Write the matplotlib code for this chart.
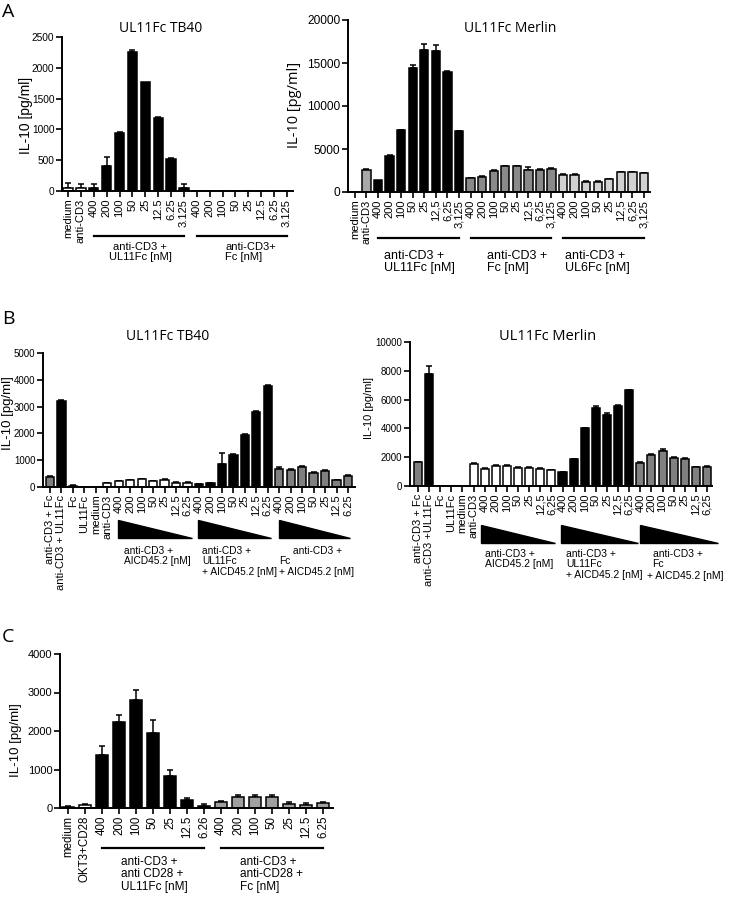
import matplotlib
matplotlib.use("Agg")
import matplotlib.pyplot as plt
import numpy as np
from matplotlib.patches import Polygon
from matplotlib.transforms import blended_transform_factory

plt.rcParams['font.family'] = ['Liberation Sans', 'DejaVu Sans']

W, H = 734, 898

# ---------------- DATA ----------------
# Panel A left: UL11Fc TB40
a1_labels = ["medium", "anti-CD3", "400", "200", "100", "50", "25", "12.5", "6.25", "3.125",
             "400", "200", "100", "50", "25", "12.5", "6.25", "3.125"]
a1_values = [50, 50, 50, 400, 940, 2250, 1770, 1190, 520, 50, 0, 0, 0, 0, 0, 0, 0, 0]
a1_errtop = [130, 120, 110, 550, 950, 2290, 1770, 1200, 530, 120, 0, 0, 0, 0, 0, 0, 0, 0]

# Panel A right: UL11Fc Merlin
a2_labels = ["medium", "anti-CD3",
             "400", "200", "100", "50", "25", "12,5", "6,25", "3,125",
             "400", "200", "100", "50", "25", "12,5", "6,25", "3,125",
             "400", "200", "100", "50", "25", "12,5", "6,25", "3,125"]
a2_values = [0, 2600, 1400, 4200, 7200, 14400, 16500, 16400, 13900, 7100,
             1600, 1800, 2500, 3000, 3000, 2600, 2600, 2700,
             2000, 2000, 1200, 1200, 1500, 2300, 2300, 2200]
a2_errtop = [0, 2650, 1400, 4250, 7250, 14800, 17200, 17100, 14100, 7150,
             1650, 1850, 2550, 3050, 3050, 2950, 2650, 2750,
             2050, 2050, 1250, 1250, 1550, 2350, 2350, 2250]

# Panel B left: UL11Fc TB40
b1_labels = ["anti-CD3 + Fc", "anti-CD3 + UL11Fc", "Fc", "UL11Fc", "medium", "anti-CD3",
             "400", "200", "100", "50", "25", "12.5", "6.25",
             "400", "200", "100", "50", "25", "12.5", "6.25",
             "400", "200", "100", "50", "25", "12.5", "6.25"]
b1_values = [380, 3220, 50, 0, 0, 150,
             224, 250, 286, 224, 261, 162, 162,
             112, 150, 860, 1210, 1930, 2800, 3780,
             685, 620, 750, 520, 600, 250, 420]
b1_errtop = [420, 3250, 70, 0, 0, 160,
             240, 265, 305, 240, 280, 175, 175,
             120, 165, 1280, 1230, 1990, 2840, 3820,
             760, 670, 780, 560, 640, 270, 460]

# Panel B right: UL11Fc Merlin
b2_labels = ["anti-CD3 + Fc", "anti-CD3 +UL11Fc", "Fc", "UL11Fc", "medium", "anti-CD3",
             "400", "200", "100", "50", "25", "12,5", "6,25",
             "400", "200", "100", "50", "25", "12,5", "6,25",
             "400", "200", "100", "50", "25", "12,5", "6,25"]
b2_values = [1650, 7750, 0, 0, 0, 1550,
             1200, 1400, 1420, 1280, 1260, 1200, 1080,
             950, 1850, 4000, 5450, 4950, 5550, 6650,
             1600, 2150, 2450, 1950, 1880, 1300, 1350]
b2_errtop = [1700, 8300, 0, 0, 0, 1620,
             1250, 1460, 1460, 1320, 1300, 1250, 1130,
             1000, 1900, 4050, 5550, 5050, 5620, 6700,
             1650, 2250, 2550, 2020, 1950, 1350, 1420]

# Panel C
c_labels = ["medium", "OKT3+CD28",
            "400", "200", "100", "50", "25", "12.5", "6.26",
            "400", "200", "100", "50", "25", "12.5", "6.25"]
c_values = [20, 80, 1370, 2230, 2800, 1960, 830, 210, 60,
            150, 290, 280, 290, 110, 90, 120]
c_errtop = [40, 110, 1600, 2420, 3060, 2280, 990, 260, 100,
            180, 350, 340, 330, 150, 130, 160]

# ---------------- STYLE ----------------
a1_colors = ['white'] * 2 + ['black'] * 8 + ['black'] * 8
a2_colors = ['white', '#a8a8a8'] + ['black'] * 8 + ['#8a8a8a'] * 8 + ['#d2d2d2'] * 8
b1_colors = ['#808080', 'black', 'black', 'black', 'black', 'white'] + ['white'] * 7 + ['black'] * 7 + ['#808080'] * 7
b2_colors = ['#808080', 'black', 'black', 'black', 'black', 'white'] + ['white'] * 7 + ['black'] * 7 + ['#808080'] * 7
c_colors = ['white'] * 2 + ['black'] * 7 + ['#a0a0a0'] * 7

fig = plt.figure(figsize=(W / 100, H / 100), dpi=100)


def px_axes(x0, x1, ytop, ybot):
    return fig.add_axes([x0 / W, 1 - ybot / H, (x1 - x0) / W, (ybot - ytop) / H])


def draw_panel(ax, labels, values, errtop, colors, xlim, ylim, yticks, tickfs=7, ytickfs=7, width=0.72):
    x = np.arange(len(values))
    vals = np.array(values, dtype=float)
    et = np.array(errtop, dtype=float)
    err = np.clip(et - vals, 0, None)
    mask = err > 0
    ax.errorbar(x[mask], vals[mask], yerr=[np.zeros(mask.sum()), err[mask]], fmt='none',
                ecolor='black', elinewidth=1.1, capsize=2.5, capthick=1.1, zorder=1)
    ax.bar(x, vals, width=width, color=colors, edgecolor='black', linewidth=1.1, zorder=2)
    ax.set_xlim(*xlim)
    ax.set_ylim(*ylim)
    ax.set_yticks(yticks)
    ax.set_yticklabels([str(t) for t in yticks], fontsize=ytickfs)
    ax.set_xticks(x)
    ax.set_xticklabels(labels, rotation=90, fontsize=tickfs, ha='center', va='top')
    for s in ['top', 'right']:
        ax.spines[s].set_visible(False)
    for s in ['left', 'bottom']:
        ax.spines[s].set_linewidth(1.4)
    ax.tick_params(axis='both', direction='out', length=4, width=1.2, pad=1.5)
    ax.patch.set_alpha(0)


def ypx(ax, y):
    return blended_transform_factory(ax.transData, fig.transFigure), 1 - y / H


def hline(ax, i0, i1, y):
    tr, yf = ypx(ax, y)
    ax.plot([i0, i1], [yf, yf], color='black', lw=1.6, transform=tr, clip_on=False)


def wedge(ax, x0, x1, ytop, ybot):
    tr = blended_transform_factory(ax.transData, fig.transFigure)
    p = Polygon([(x0, 1 - ytop / H), (x0, 1 - ybot / H), (x1, 1 - ybot / H)], closed=True,
                facecolor='black', edgecolor='black', transform=tr, clip_on=False)
    ax.add_patch(p)


def label(ax, xd, y, s, fs, ha='left'):
    tr = blended_transform_factory(ax.transData, fig.transFigure)
    ax.text(xd, 1 - y / H, s, transform=tr, fontsize=fs, ha=ha, va='top', linespacing=1.05, clip_on=False)


title_font = ['Open Sans', 'DejaVu Sans']

# ---- Panel A left ----
axA1 = px_axes(62, 293, 37, 191)
draw_panel(axA1, a1_labels, a1_values, a1_errtop, a1_colors, (-0.47, 17.47), (0, 2500),
           [0, 500, 1000, 1500, 2000, 2500], tickfs=8, ytickfs=7.3)
hline(axA1, 2, 9, 236)
hline(axA1, 10, 17, 236)
label(axA1, 5.6, 242, "anti-CD3 +\nUL11Fc [nM]", 8, ha='center')
label(axA1, 12.2, 242, "anti-CD3+\nFc [nM]", 8)
fig.text(26 / W, 1 - 115 / H, "IL-10 [pg/ml]", rotation=90, ha='center', va='center', fontsize=10)
fig.text(161 / W, 1 - 28 / H, "UL11Fc TB40", ha='center', va='center', fontsize=10, family=title_font)

# ---- Panel A right ----
axA2 = px_axes(348, 650, 20, 192)
draw_panel(axA2, a2_labels, a2_values, a2_errtop, a2_colors, (-0.6, 25.52), (0, 20000),
           [0, 5000, 10000, 15000, 20000], tickfs=8, ytickfs=8.6)
hline(axA2, 2, 9, 238)
hline(axA2, 10, 17, 238)
hline(axA2, 18, 25, 238)
label(axA2, 2.5, 250, "anti-CD3 +\nUL11Fc [nM]", 9)
label(axA2, 11.4, 250, "anti-CD3 +\nFc [nM]", 9)
label(axA2, 18.2, 250, "anti-CD3 +\nUL6Fc [nM]", 9)
fig.text(295 / W, 1 - 105 / H, "IL-10 [pg/ml]", rotation=90, ha='center', va='center', fontsize=10.5, family=title_font)
fig.text(510 / W, 1 - 28 / H, "UL11Fc Merlin", ha='center', va='center', fontsize=10, family=title_font)

# ---- Panel B left ----
axB1 = px_axes(43, 355, 353, 487)
draw_panel(axB1, b1_labels, b1_values, b1_errtop, b1_colors, (-0.61, 26.61), (0, 5000),
           [0, 1000, 2000, 3000, 4000, 5000], tickfs=8, ytickfs=7)
wedge(axB1, 5.9, 12.4, 520, 538)
wedge(axB1, 12.95, 19.3, 520, 538)
wedge(axB1, 19.95, 26.2, 520, 538)
label(axB1, 6.5, 546, "anti-CD3 +\nAICD45.2 [nM]", 7.3)
label(axB1, 13.3, 546, "anti-CD3 +\nUL11Fc\n+ AICD45.2 [nM]", 7.3)
label(axB1, 21.2, 546, "anti-CD3 +", 7.3)
label(axB1, 20.0, 556.5, "Fc\n+ AICD45.2 [nM]", 7.3)
fig.text(8 / W, 1 - 413 / H, "IL-10 [pg/ml]", rotation=90, ha='center', va='center', fontsize=9.5)
fig.text(168 / W, 1 - 336 / H, "UL11Fc TB40", ha='center', va='center', fontsize=10, family=title_font)

# ---- Panel B right ----
axB2 = px_axes(410, 712, 342, 486)
draw_panel(axB2, b2_labels, b2_values, b2_errtop, b2_colors, (-0.72, 26.45), (0, 10000),
           [0, 2000, 4000, 6000, 8000, 10000], tickfs=8, ytickfs=7)
wedge(axB2, 5.7, 12.3, 525, 543)
wedge(axB2, 12.9, 19.8, 525, 543)
wedge(axB2, 20.0, 27.0, 525, 543)
label(axB2, 6.0, 549, "anti-CD3 +\nAICD45.2 [nM]", 7.5)
label(axB2, 13.3, 549, "anti-CD3 +\nUL11Fc\n+ AICD45.2 [nM]", 7.5)
label(axB2, 21.1, 549, "anti-CD3 +\nFc", 7.5)
label(axB2, 20.6, 571, "+ AICD45.2 [nM]", 7.5)
fig.text(369 / W, 1 - 408 / H, "IL-10 [pg/ml]", rotation=90, ha='center', va='center', fontsize=8)
fig.text(548 / W, 1 - 336 / H, "UL11Fc Merlin", ha='center', va='center', fontsize=10.5, family=title_font)

# ---- Panel C ----
axC = px_axes(60, 333, 654, 808)
draw_panel(axC, c_labels, c_values, c_errtop, c_colors, (-0.47, 15.59), (0, 4000),
           [0, 1000, 2000, 3000, 4000], tickfs=8.3, ytickfs=8)
hline(axC, 2, 8, 848)
hline(axC, 9, 15, 848)
label(axC, 3.1, 856, "anti-CD3 +\nanti CD28 +\nUL11Fc [nM]", 8.5)
label(axC, 10.1, 856, "anti-CD3 +\nanti-CD28 +\nFc [nM]", 8.5)
fig.text(16 / W, 1 - 740 / H, "IL-10 [pg/ml]", rotation=90, ha='center', va='center', fontsize=9.5)

# panel letters
fig.text(2 / W, 1 - 3 / H, "A", ha='left', va='top', fontsize=14, family=title_font)
fig.text(2 / W, 1 - 310 / H, "B", ha='left', va='top', fontsize=14, family=title_font)
fig.text(2 / W, 1 - 628 / H, "C", ha='left', va='top', fontsize=14, family=title_font)

fig.savefig("out.png", dpi=100)
